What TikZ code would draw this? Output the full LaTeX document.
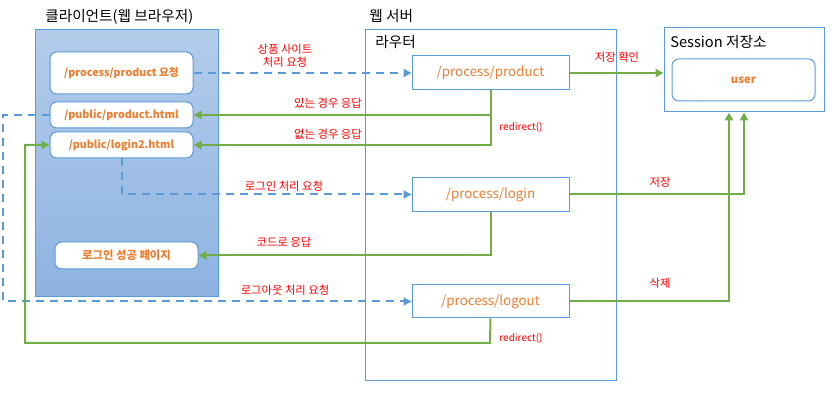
\documentclass[tikz,border=0pt]{standalone}
\usepackage{fontspec}
\setmainfont{Noto Sans CJK KR}
\usetikzlibrary{arrows.meta}
\definecolor{lineblue}{HTML}{5B9BD5}
\definecolor{flowgreen}{HTML}{70AD47}
\definecolor{txtorange}{HTML}{ED7D31}
\definecolor{txtred}{HTML}{FF0000}
\definecolor{clienttop}{HTML}{B3CCEA}
\definecolor{clientbot}{HTML}{8DB3E2}
\tikzset{
  title/.style={anchor=west, inner sep=0pt, font=\fontsize{11}{13}\selectfont},
  pagebox/.style={draw=lineblue, line width=0.75pt, fill=white, rounded corners=5pt,
    minimum width=107.25pt, font=\fontsize{8}{9.5}\selectfont\bfseries, text=txtorange, inner sep=0pt},
  routebox/.style={draw=lineblue, line width=0.75pt, fill=white,
    minimum width=117.75pt, minimum height=25.5pt, inner sep=0pt,
    font=\fontsize{10}{12}\selectfont, text=txtorange},
  request/.style={draw=lineblue, line width=1.5pt, dash pattern=on 6pt off 4.5pt,
    -{Triangle[length=6pt,width=6pt]}},
  reply/.style={draw=flowgreen, line width=1.5pt, -{Triangle[length=6pt,width=6pt]}},
  note/.style={text=txtred, inner sep=0pt, align=center,
    font=\fontsize{8.5}{10}\selectfont},
  smallnote/.style={text=txtred, inner sep=0pt, font=\fontsize{7.5}{9}\selectfont},
}
\begin{document}
\begin{tikzpicture}[x=0.75pt,y=-0.75pt]
\useasboundingbox (0,0) rectangle (832,398);

% client side
\node[title] (clienttitle) at (45,17) {클라이언트(웹 브라우저)};
\node[draw=lineblue, line width=0.75pt, top color=clienttop, bottom color=clientbot,
  minimum width=137.25pt, minimum height=200.25pt, inner sep=0pt] (client) at (126.5,163.5) {};
\node[pagebox, minimum height=31.5pt] (req) at (121.5,73) {/process/product 요청};
\node[pagebox, minimum height=19.5pt] (prodhtml) at (121.5,115) {/public/product.html};
\node[pagebox, minimum height=19.5pt] (login2) at (121.5,145) {/public/login2.html};
\node[pagebox, minimum height=20.25pt, font=\fontsize{8.5}{10}\selectfont\bfseries] (success) at (126.5,255.5) {로그인 성공 페이지};

% web server
\node[title] (servertitle) at (369,16) {웹 서버};
\node[draw=lineblue, line width=0.75pt, minimum width=188.25pt, minimum height=263.25pt,
  inner sep=0pt] (server) at (490.5,205.5) {};
\node[title] (routertitle) at (375,42) {라우터};
\node[routebox] (rproduct) at (490.5,73) {/process/product};
\node[routebox] (rlogin) at (490.5,194.5) {/process/login};
\node[routebox, minimum height=24.75pt] (rlogout) at (490.5,301.5) {/process/logout};

% session store
\node[draw=lineblue, line width=0.75pt, minimum width=120pt, minimum height=63pt,
  inner sep=0pt] (session) at (744,70) {};
\node[title] (sessiontitle) at (670,42) {Session 저장소};
\node[pagebox, minimum height=31.5pt, font=\fontsize{8.5}{10}\selectfont\bfseries] (user) at (743.5,80) {user};

% helper points for the long routes
\coordinate (dashleft) at (3,115);
\coordinate (redirbottom) at (490,343);
\coordinate (redirleft) at (25,343);
\coordinate (sessionin) at ([xshift=-11.25pt]session.south);

% requests
\draw[request] (req.east) -- (rproduct.west);
\draw[request] (login2.south) |- (rlogin.west);
\draw[request] (prodhtml.west) -- (dashleft) |- (rlogout.west);

% responses
\draw[reply] (rproduct.south) |- (login2.east);
\draw[reply] (rproduct.south |- prodhtml.east) -- (prodhtml.east);
\draw[reply] (rlogin.south) |- (success.east);
\draw[reply] (rlogout.south) -- (redirbottom) -- (redirleft) |- (login2.west);

% session access
\draw[reply] (rproduct.east) -- (rproduct.east -| session.west);
\draw[reply] (rlogin.east) -| (session.south);
\draw[reply] (rlogout.east) -| (sessionin);

% labels
\node[note] (l1) at (285,56) {상품 사이트\\처리 요청};
\node[note] (l2) at (328,103) {있는 경우 응답};
\node[note] (l3) at (328,134) {없는 경우 응답};
\node[smallnote] (l4) at (521,127) {redirect()};
\node[note] (l5) at (617,57) {저장 확인};
\node[note] (l6) at (284,186) {로그인 처리 요청};
\node[note] (l7) at (284,242) {코드로 응답};
\node[note] (l8) at (660,182) {저장};
\node[note] (l9) at (285,290) {로그아웃 처리 요청};
\node[note] (l10) at (660,283) {삭제};
\node[smallnote] (l11) at (521,338) {redirect()};
\end{tikzpicture}
\end{document}
